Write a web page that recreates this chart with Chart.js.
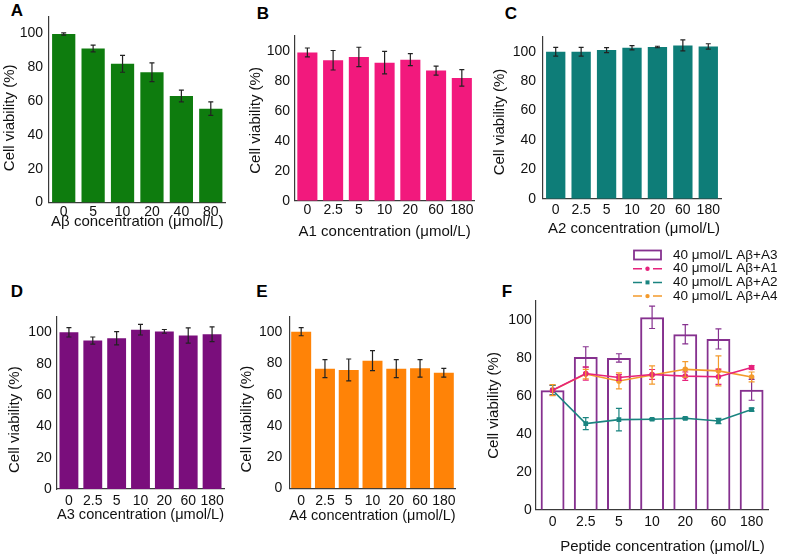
<!DOCTYPE html>
<html>
<head>
<meta charset="utf-8">
<title>Cell viability</title>
<script src="https://cdn.jsdelivr.net/npm/chart.js@4.4.1/dist/chart.umd.min.js"></script>
<style>
  html, body { margin: 0; padding: 0; background: #fff; }
  #page { position: relative; width: 787px; height: 556px; overflow: hidden; }
  #page canvas { position: absolute; }
  .tag { position: absolute; font: bold 17px "Liberation Sans", Arial, sans-serif; color: #000; line-height: 1; transform: translate(-50%, -50%); }
</style>
</head>
<body>
<div id="page">
  <div class="tag" style="left:17px;top:10px">A</div>
  <div class="tag" style="left:263px;top:13px">B</div>
  <div class="tag" style="left:511px;top:13px">C</div>
  <div class="tag" style="left:17px;top:291px">D</div>
  <div class="tag" style="left:262px;top:291px">E</div>
  <div class="tag" style="left:507px;top:291px">F</div>
</div>
<script>
// x axis categories (concentrations)
var abDoses = ['0', '5', '10', '20', '40', '80'];
var peptideDoses = ['0', '2.5', '5', '10', '20', '60', '180'];

// A - Abeta alone
var abViability = [99.6, 91, 82, 77, 63, 55.5];
var abSd = [0.7, 2, 5, 5.5, 3.5, 4];
// B..E - peptides alone
var a1Viability = [99, 93.8, 96, 92.2, 94.2, 86.9, 82];
var a1Sd = [3, 6.5, 6.5, 7.5, 4, 3, 5.5];
var a2Viability = [100, 100, 101.1, 102.7, 103.2, 104.3, 103.6];
var a2Sd = [3, 3, 1.7, 1.4, 0.5, 3.7, 1.8];
var a3Viability = [100.2, 94.9, 96.4, 101.9, 100.8, 98.2, 99];
var a3Sd = [3, 2.3, 4.2, 3.4, 1.2, 4.9, 4.7];
var a4Viability = [100.4, 76.7, 75.9, 81.8, 76.7, 76.9, 74.1];
var a4Sd = [2.6, 5.8, 7, 6.4, 5.8, 5.6, 2.8];
// F - 40 umol/L Abeta + peptide
var mixA3 = [63, 80.5, 80, 101.4, 92.5, 90, 63.2];
var mixA3Sd = [0, 5.4, 2.2, 5.9, 5.1, 5.3, 5.5];
var mixA1 = [63, 71.8, 69.7, 71.3, 70.4, 70.1, 75];
var mixA1Sd = [2.5, 3.5, 1.5, 2.6, 2.2, 4, 1];
var mixA2 = [63, 45.4, 47.5, 47.7, 48.2, 46.8, 52.8];
var mixA2Sd = [2.5, 3.2, 5.9, 0.4, 0.5, 1.4, 0.8];
var mixA4 = [63, 71.5, 67.9, 71, 74, 73.2, 70];
var mixA4Sd = [2.9, 2.5, 4.2, 4.8, 4.1, 7.9, 2.6];

var yTitle = 'Cell viability (%)';

Chart.defaults.font.family = '"Liberation Sans", Arial, Helvetica, sans-serif';
Chart.defaults.color = '#111';

function spaces(n) { return new Array(n + 1).join(' '); }

// mean +/- sd whiskers, placed with the chart's own y scale
var errorBars = {
  id: 'errorBars',
  afterDatasetsDraw: function(chart) {
    var ctx = chart.ctx, y = chart.scales.y;
    chart.data.datasets.forEach(function(ds, i) {
      if (!ds.errors) return;
      var meta = chart.getDatasetMeta(i);
      ctx.save();
      ctx.strokeStyle = ds.errorColor;
      ctx.lineWidth = 1.2;
      meta.data.forEach(function(el, j) {
        var e = ds.errors[j];
        if (!e) return;
        var top = y.getPixelForValue(ds.data[j] + e);
        var bot = y.getPixelForValue(ds.data[j] - e);
        var w = ds.capWidth || 2.5;
        ctx.beginPath();
        ctx.moveTo(el.x, top); ctx.lineTo(el.x, bot);
        ctx.moveTo(el.x - w, top); ctx.lineTo(el.x + w, top);
        ctx.moveTo(el.x - w, bot); ctx.lineTo(el.x + w, bot);
        ctx.stroke();
      });
      ctx.restore();
    });
  }
};

// stacked legend of panel F (sits above the plot area)
var peptideLegend = {
  id: 'peptideLegend',
  afterDraw: function(chart, args, o) {
    if (o.x === undefined) return;
    var ctx = chart.ctx;
    ctx.save();
    ctx.font = '13.5px "Liberation Sans", Arial, sans-serif';
    ctx.textBaseline = 'middle';
    chart.data.datasets.forEach(function(ds, r) {
      var x = o.x, y = o.y + r * o.rowH;
      ctx.strokeStyle = ds.borderColor;
      ctx.fillStyle = ds.borderColor;
      if (ds.type === 'bar') {
        ctx.lineWidth = 1.8;
        ctx.strokeRect(x + 1, y - 4.5, 27, 9);
      } else {
        ctx.lineWidth = 1.5;
        ctx.beginPath();
        ctx.moveTo(x, y); ctx.lineTo(x + 9, y);
        ctx.moveTo(x + 20, y); ctx.lineTo(x + 29, y);
        ctx.stroke();
        ctx.beginPath();
        if (ds.pointStyle === 'rect') ctx.rect(x + 12.5, y - 2, 4, 4);
        else ctx.arc(x + 14.5, y, 2.2, 0, Math.PI * 2);
        ctx.fill();
      }
      ctx.fillStyle = '#111';
      ctx.fillText(ds.label, x + 40, y);
    });
    ctx.restore();
  }
};

function makeChart(p, datasets, labels) {
  var cv = document.createElement('canvas');
  var cl = Math.round(p.yTitleX - 9), ct = Math.round(p.top - p.padTop);
  var xh = p.xTitleY - p.bottom + 9;
  var w = Math.round(p.right + p.padRight - cl), h = Math.round(p.bottom + xh - ct);
  cv.width = w; cv.height = h;
  cv.style.left = cl + 'px'; cv.style.top = ct + 'px';
  document.getElementById('page').appendChild(cv);
  var yw = p.left - cl;
  var legendOpts = p.legend ? { x: p.legend.x - cl, y: p.legend.y - ct, rowH: p.legend.rowH } : {};

  return new Chart(cv, {
    type: 'bar',
    data: { labels: labels, datasets: datasets },
    plugins: [errorBars, peptideLegend],
    options: {
      responsive: false,
      animation: false,
      events: [],
      layout: { padding: { left: 0, top: p.top - ct, right: cl + w - p.right, bottom: 0 } },
      plugins: { legend: { display: false }, tooltip: { enabled: false }, peptideLegend: legendOpts },
      scales: {
        x: {
          grid: { display: false, drawTicks: false },
          border: { display: true, color: '#3a3a3a', width: 1.2 },
          ticks: { font: { size: 14 }, color: '#111', padding: p.xTickPad, maxRotation: 0, minRotation: 0, autoSkip: false },
          title: { display: true, text: spaces(p.xShift || 0) + p.xTitle, font: { size: 15 }, color: '#111', padding: 0 },
          afterFit: function(s) { s.height = xh; }
        },
        y: {
          min: 0, max: 110,
          grid: { display: false, drawTicks: false },
          border: { display: true, color: '#3a3a3a', width: 1.2 },
          ticks: { stepSize: 20, includeBounds: false, font: { size: 14 }, color: '#111', padding: p.yTickPad },
          title: { display: true, text: yTitle + spaces(p.yShift || 0), font: { size: 15 }, color: '#111', padding: 0 },
          afterFit: function(s) { s.width = yw; }
        }
      }
    }
  });
}

function barSet(values, sd, color, pct) {
  return [{ data: values, errors: sd, errorColor: '#222', backgroundColor: color, borderWidth: 0, barPercentage: pct, categoryPercentage: 1 }];
}

makeChart({ left: 49, right: 225.5, top: 16.4, bottom: 202.3, yTitleX: 10, xTitleY: 221.7, padTop: 16, padRight: 12,
            xTickPad: 1.3, yTickPad: 6, yShift: 4, xTitle: 'A\u03b2 concentration (\u03bcmol/L)' },
          barSet(abViability, abSd, '#0e7c0e', 0.79), abDoses);

makeChart({ left: 294.5, right: 474.7, top: 36, bottom: 201, yTitleX: 256, xTitleY: 232.3, padTop: 16, padRight: 12,
            xTickPad: 1.3, yTickPad: 4.5, yShift: 1, xTitle: 'A1 concentration (\u03bcmol/L)' },
          barSet(a1Viability, a1Sd, '#f2197d', 0.78), peptideDoses);

makeChart({ left: 543, right: 721, top: 37, bottom: 199, yTitleX: 500, xTitleY: 229.3, padTop: 16, padRight: 12,
            xTickPad: 2.6, yTickPad: 7, yShift: 2, xShift: 1, xTitle: 'A2 concentration (\u03bcmol/L)' },
          barSet(a2Viability, a2Sd, '#0e7d78', 0.76), peptideDoses);

makeChart({ left: 57, right: 224, top: 317, bottom: 489, yTitleX: 15, xTitleY: 515, padTop: 16, padRight: 12,
            xTickPad: 3.6, yTickPad: 5.3, yShift: 8, xTitle: 'A3 concentration (\u03bcmol/L)' },
          barSet(a3Viability, a3Sd, '#7a0e7c', 0.79), peptideDoses);

makeChart({ left: 289.3, right: 455.7, top: 316.7, bottom: 488.3, yTitleX: 246.5, xTitleY: 516, padTop: 16, padRight: 12,
            xTickPad: 4.3, yTickPad: 7, yShift: 8, xShift: 0, xTitle: 'A4 concentration (\u03bcmol/L)' },
          barSet(a4Viability, a4Sd, '#ff8307', 0.84), peptideDoses);

var purple = '#86318f', pink = '#e6227c', teal = '#1a8480', orange = '#f39a2c';
makeChart({ left: 536, right: 768.2, top: 301, bottom: 509.5, yTitleX: 493.5, xTitleY: 546.7, padTop: 61, padRight: 18.8,
            xTickPad: 3.8, yTickPad: 4.3, yShift: 0, xShift: 5, xTitle: 'Peptide concentration (\u03bcmol/L)',
            legend: { x: 633, y: 255, rowH: 13.7 } },
  [
    { type: 'bar', label: '40 \u03bcmol/L A\u03b2+A3', data: mixA3, errors: mixA3Sd, errorColor: purple, capWidth: 3,
      backgroundColor: 'rgba(255,255,255,0)', borderColor: purple, borderWidth: 2, barPercentage: 0.72, categoryPercentage: 1, order: 1 },
    { type: 'line', label: '40 \u03bcmol/L A\u03b2+A1', data: mixA1, errors: mixA1Sd, errorColor: pink, capWidth: 3,
      borderColor: pink, backgroundColor: pink, borderWidth: 1.6, pointStyle: 'circle', pointRadius: 2, tension: 0, order: 0 },
    { type: 'line', label: '40 \u03bcmol/L A\u03b2+A2', data: mixA2, errors: mixA2Sd, errorColor: teal, capWidth: 3,
      borderColor: teal, backgroundColor: teal, borderWidth: 1.6, pointStyle: 'rect', pointRadius: 2.2, tension: 0, order: 0 },
    { type: 'line', label: '40 \u03bcmol/L A\u03b2+A4', data: mixA4, errors: mixA4Sd, errorColor: orange, capWidth: 3,
      borderColor: orange, backgroundColor: orange, borderWidth: 1.6, pointStyle: 'circle', pointRadius: 2, tension: 0, order: 0 }
  ], peptideDoses);
</script>
</body>
</html>
